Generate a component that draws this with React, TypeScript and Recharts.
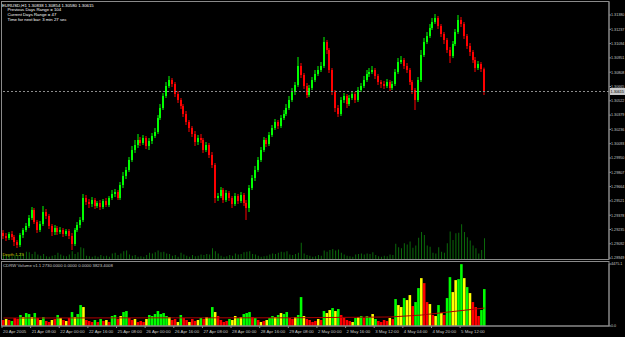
import React from 'react';
import { ComposedChart, Bar, Line, XAxis, YAxis, ReferenceLine, Cell } from 'recharts';

// EURUSD H1 (one entry per bar)
const opens = [
  1.2920, 1.2917, 1.2915, 1.2919, 1.2916, 1.2911, 1.2908, 1.2918, 1.2923, 1.2927,
  1.2935, 1.2943, 1.2931, 1.2923, 1.2929, 1.2941, 1.2937, 1.2927, 1.2921, 1.2925,
  1.2921, 1.2923, 1.2919, 1.2922, 1.2917, 1.2909, 1.2923, 1.2928, 1.2933, 1.2955,
  1.2951, 1.2949, 1.2953, 1.2947, 1.2950, 1.2946, 1.2952, 1.2948, 1.2955, 1.2959,
  1.2961, 1.2955, 1.2968, 1.2977, 1.2983, 1.2993, 1.3003, 1.3008, 1.3013, 1.3010,
  1.3015, 1.3007, 1.3012, 1.3017, 1.3021, 1.3035, 1.3045, 1.3057, 1.3067, 1.3073,
  1.3069, 1.3059, 1.3053, 1.3047, 1.3039, 1.3031, 1.3025, 1.3019, 1.3011, 1.3015,
  1.3013, 1.3003, 1.3008, 1.2998, 1.2988, 1.2955, 1.2957, 1.2963, 1.2953, 1.2960,
  1.2955, 1.2949, 1.2957, 1.2952, 1.2958, 1.2950, 1.2945, 1.2965, 1.2975, 1.2983,
  1.2993, 1.3003, 1.3013, 1.3009, 1.3018, 1.3025, 1.3031, 1.3027, 1.3035, 1.3039,
  1.3045, 1.3053, 1.3061, 1.3068, 1.3087, 1.3078, 1.3067, 1.3058, 1.3065, 1.3073,
  1.3079, 1.3083, 1.3087, 1.3111, 1.3103, 1.3083, 1.3061, 1.3045, 1.3039, 1.3053,
  1.3057, 1.3049, 1.3055, 1.3059, 1.3053, 1.3063, 1.3067, 1.3073, 1.3079, 1.3081,
  1.3083, 1.3077, 1.3071, 1.3069, 1.3067, 1.3071, 1.3065, 1.3069, 1.3081, 1.3091,
  1.3093, 1.3087, 1.3083, 1.3071, 1.3063, 1.3053, 1.3073, 1.3098, 1.3111, 1.3117,
  1.3125, 1.3131, 1.3135, 1.3127, 1.3119, 1.3113, 1.3103, 1.3097, 1.3109, 1.3121,
  1.3133, 1.3129, 1.3117, 1.3107, 1.3101, 1.3093, 1.3085, 1.3089, 1.30838,
];
const highs = [
  1.2923, 1.2920, 1.2921, 1.2922, 1.2918, 1.2913, 1.2920, 1.2925, 1.2930, 1.2938,
  1.2946, 1.2945, 1.2933, 1.2932, 1.2947, 1.2944, 1.2939, 1.2929, 1.2928, 1.2927,
  1.2926, 1.2925, 1.2924, 1.2924, 1.2920, 1.2925, 1.2931, 1.2936, 1.2959, 1.2958,
  1.2954, 1.2956, 1.2955, 1.2952, 1.2953, 1.2954, 1.2955, 1.2957, 1.2963, 1.2964,
  1.2963, 1.2971, 1.2981, 1.2986, 1.2996, 1.3007, 1.3013, 1.3019, 1.3016, 1.3018,
  1.3017, 1.3015, 1.3020, 1.3025, 1.3038, 1.3049, 1.3060, 1.3071, 1.3077, 1.3075,
  1.3071, 1.3062, 1.3055, 1.3049, 1.3042, 1.3033, 1.3027, 1.3022, 1.3018, 1.3019,
  1.3015, 1.3011, 1.3010, 1.3001, 1.2990, 1.2960, 1.2966, 1.2965, 1.2963, 1.2962,
  1.2957, 1.2960, 1.2959, 1.2961, 1.2960, 1.2953, 1.2968, 1.2978, 1.2987, 1.2996,
  1.3006, 1.3016, 1.3015, 1.3021, 1.3028, 1.3034, 1.3033, 1.3038, 1.3043, 1.3049,
  1.3057, 1.3065, 1.3071, 1.3096, 1.3090, 1.3080, 1.3070, 1.3068, 1.3076, 1.3083,
  1.3087, 1.3091, 1.3116, 1.3113, 1.3105, 1.3085, 1.3063, 1.3048, 1.3056, 1.3060,
  1.3059, 1.3058, 1.3062, 1.3061, 1.3066, 1.3070, 1.3077, 1.3083, 1.3085, 1.3087,
  1.3085, 1.3079, 1.3073, 1.3072, 1.3074, 1.3073, 1.3072, 1.3084, 1.3095, 1.3097,
  1.3095, 1.3090, 1.3085, 1.3073, 1.3065, 1.3076, 1.3103, 1.3115, 1.3121, 1.3129,
  1.3135, 1.3139, 1.3137, 1.3129, 1.3121, 1.3115, 1.3106, 1.3112, 1.3124, 1.3138,
  1.3136, 1.3131, 1.3119, 1.3110, 1.3103, 1.3096, 1.3092, 1.3091, 1.30854,
];
const lows = [
  1.2914, 1.2912, 1.2913, 1.2913, 1.2907, 1.2905, 1.2906, 1.2915, 1.2921, 1.2925,
  1.2933, 1.2929, 1.2920, 1.2921, 1.2927, 1.2934, 1.2924, 1.2917, 1.2918, 1.2918,
  1.2919, 1.2916, 1.2917, 1.2914, 1.2903, 1.2907, 1.2921, 1.2925, 1.2931, 1.2948,
  1.2945, 1.2946, 1.2944, 1.2945, 1.2943, 1.2944, 1.2946, 1.2946, 1.2953, 1.2956,
  1.2953, 1.2953, 1.2965, 1.2974, 1.2981, 1.2991, 1.3000, 1.3005, 1.3007, 1.3008,
  1.3004, 1.3003, 1.3009, 1.3015, 1.3019, 1.3033, 1.3043, 1.3055, 1.3065, 1.3066,
  1.3056, 1.3050, 1.3044, 1.3036, 1.3028, 1.3021, 1.3016, 1.3007, 1.3008, 1.3010,
  1.3000, 1.3001, 1.2995, 1.2985, 1.2950, 1.2952, 1.2955, 1.2950, 1.2951, 1.2952,
  1.2945, 1.2947, 1.2949, 1.2950, 1.2947, 1.2933, 1.2941, 1.2963, 1.2972, 1.2981,
  1.2991, 1.3001, 1.3006, 1.3007, 1.3016, 1.3023, 1.3024, 1.3025, 1.3033, 1.3037,
  1.3043, 1.3051, 1.3058, 1.3066, 1.3075, 1.3064, 1.3055, 1.3056, 1.3063, 1.3071,
  1.3077, 1.3081, 1.3085, 1.3099, 1.3080, 1.3058, 1.3041, 1.3036, 1.3037, 1.3050,
  1.3045, 1.3047, 1.3053, 1.3050, 1.3051, 1.3061, 1.3065, 1.3071, 1.3076, 1.3079,
  1.3074, 1.3068, 1.3065, 1.3064, 1.3065, 1.3062, 1.3063, 1.3067, 1.3079, 1.3089,
  1.3084, 1.3080, 1.3068, 1.3059, 1.3043, 1.3051, 1.3071, 1.3096, 1.3109, 1.3115,
  1.3123, 1.3129, 1.3124, 1.3116, 1.3109, 1.3100, 1.3090, 1.3095, 1.3107, 1.3119,
  1.3126, 1.3114, 1.3104, 1.3097, 1.3090, 1.3081, 1.3083, 1.3081, 1.30580,
];
const closes = [
  1.2917, 1.2915, 1.2919, 1.2916, 1.2911, 1.2908, 1.2918, 1.2923, 1.2927, 1.2935,
  1.2943, 1.2931, 1.2923, 1.2929, 1.2941, 1.2937, 1.2927, 1.2921, 1.2925, 1.2921,
  1.2923, 1.2919, 1.2922, 1.2917, 1.2909, 1.2923, 1.2928, 1.2933, 1.2955, 1.2951,
  1.2949, 1.2953, 1.2947, 1.2950, 1.2946, 1.2952, 1.2948, 1.2955, 1.2959, 1.2961,
  1.2955, 1.2968, 1.2977, 1.2983, 1.2993, 1.3003, 1.3008, 1.3013, 1.3010, 1.3015,
  1.3007, 1.3012, 1.3017, 1.3021, 1.3035, 1.3045, 1.3057, 1.3067, 1.3073, 1.3069,
  1.3059, 1.3053, 1.3047, 1.3039, 1.3031, 1.3025, 1.3019, 1.3011, 1.3015, 1.3013,
  1.3003, 1.3008, 1.2998, 1.2988, 1.2955, 1.2957, 1.2963, 1.2953, 1.2960, 1.2955,
  1.2949, 1.2957, 1.2952, 1.2958, 1.2950, 1.2945, 1.2965, 1.2975, 1.2983, 1.2993,
  1.3003, 1.3013, 1.3009, 1.3018, 1.3025, 1.3031, 1.3027, 1.3035, 1.3039, 1.3045,
  1.3053, 1.3061, 1.3068, 1.3087, 1.3078, 1.3067, 1.3058, 1.3065, 1.3073, 1.3079,
  1.3083, 1.3087, 1.3111, 1.3103, 1.3083, 1.3061, 1.3045, 1.3039, 1.3053, 1.3057,
  1.3049, 1.3055, 1.3059, 1.3053, 1.3063, 1.3067, 1.3073, 1.3079, 1.3081, 1.3083,
  1.3077, 1.3071, 1.3069, 1.3067, 1.3071, 1.3065, 1.3069, 1.3081, 1.3091, 1.3093,
  1.3087, 1.3083, 1.3071, 1.3063, 1.3053, 1.3073, 1.3098, 1.3111, 1.3117, 1.3125,
  1.3131, 1.3135, 1.3127, 1.3119, 1.3113, 1.3103, 1.3097, 1.3109, 1.3121, 1.3133,
  1.3129, 1.3117, 1.3107, 1.3101, 1.3093, 1.3085, 1.3089, 1.3084, 1.30615,
];

// tick volume per bar, and its colour code in the CDRW window (G up, Y neutral, R down)
const volumes = [
  432, 504, 432, 360, 576, 504, 792, 648, 936, 864,
  648, 936, 576, 432, 648, 360, 288, 432, 504, 792,
  576, 432, 360, 576, 1008, 648, 864, 1512, 1368, 432,
  360, 288, 432, 288, 504, 360, 432, 288, 720, 792,
  504, 720, 1008, 1080, 576, 432, 504, 288, 360, 288,
  504, 792, 720, 864, 1080, 864, 936, 720, 648, 432,
  504, 288, 792, 576, 432, 288, 504, 360, 432, 576,
  504, 648, 576, 1368, 1008, 720, 432, 288, 360, 504,
  432, 720, 576, 648, 864, 936, 1008, 648, 576, 432,
  288, 360, 432, 576, 720, 648, 792, 936, 864, 1008,
  576, 504, 648, 792, 2088, 720, 504, 432, 288, 360,
  504, 432, 1080, 936, 1152, 1296, 1080, 1224, 792, 576,
  432, 360, 288, 576, 648, 720, 576, 720, 648, 864,
  504, 360, 288, 432, 360, 576, 504, 1944, 1512, 1368,
  2016, 1872, 2232, 1440, 1728, 2736, 3456, 3096, 1728, 1584,
  792, 720, 1512, 936, 792, 2016, 3528, 2448, 3312, 3384,
  4464, 3456, 2808, 2376, 1728, 1368, 720, 1152, 2664,
];
const volumeColors = [
  'RYRGRRGYGG', 'YGRYGRRYRG', 'YRYRGYGGYR', 'RRGRGRYRGG', 'RYGGRRYRRR',
  'YGGGGGGGYR', 'RYGRRYRRYG', 'RYGGYRRRRG', 'YYGYGGGRGR', 'YRYGGYGYGG',
  'RRYGGYRRRR', 'YRGYYGYGRR', 'RRYGYGRGGY', 'GRRRRYRGYY', 'GYYRGGYRRY',
  'RYGYRGGYYG', 'GYGYRRRGG',
].join('');
// average line of the volume window: [bar, value]
const volumeMa: [number, number][] = [
  [0, 576], [60, 590], [100, 590], [135, 650], [146, 790], [155, 1000], [168, 1296],
];

const priceTicks = [
  1.3138, 1.31237, 1.31094, 1.30951, 1.30808, 1.30665, 1.30522, 1.30379, 1.30236,
  1.30093, 1.2995, 1.29807, 1.29664, 1.29521, 1.29378, 1.29235, 1.29092, 1.28949,
];
const volumeTicks = [0, 4475.1];
const dateLabels = [
  '20 Apr 2005', '21 Apr 08:00', '22 Apr 00:00', '22 Apr 16:00', '25 Apr 08:00',
  '26 Apr 00:00', '26 Apr 16:00', '27 Apr 08:00', '28 Apr 00:00', '28 Apr 16:00',
  '29 Apr 08:00', '2 May 00:00', '2 May 16:00', '3 May 12:00', '4 May 04:00',
  '4 May 20:00', '5 May 12:00',
];
const headerLines = [
  'EURUSD,H1  1.30838 1.30854 1.30580 1.30615',
  'Previous Days Range = 104',
  'Current Days Range  = 47',
  'Time for next bar:    3 min 27 sec',
];

const BAR_SLOTS = 212; // bars that fit the window width
const LABEL_EVERY = 10; // bars between date labels
const FONT = '"Liberation Sans", Arial, sans-serif';
const UP = '#00ff00';
const DOWN = '#ff0000';
const AXIS = '#8a8a8a';
const TEXT = '#c8c8c8';
const COLOR_OF: Record<string, string> = { G: '#00ff00', Y: '#ffff00', R: '#ff0000' };

const rows = opens.map((o, i) => ({
  t: i + 0.5,
  open: o,
  high: highs[i],
  low: lows[i],
  close: closes[i],
  vol: volumes[i],
  ma: null as number | null,
}));
volumeMa.forEach(([i, v]) => {
  rows[i].ma = v;
});
const lastClose = closes[closes.length - 1];
const dateTicks = dateLabels.map((_, i) => i * LABEL_EVERY);

const Candle = (props: any) => {
  const { x, y, width, height, payload } = props;
  if (x == null || !payload) return null;
  const { open, close, high, low } = payload;
  const top = Math.min(y, y + height);
  const h = Math.abs(height);
  const k = high > low ? h / (high - low) : 0;
  const bodyTop = top + (high - Math.max(open, close)) * k;
  const bodyH = Math.max(1, Math.abs(open - close) * k);
  const color = close >= open ? UP : DOWN;
  const left = Math.round(x);
  return (
    <g>
      <rect x={left + 0.5} y={top} width={1} height={Math.max(h, 1)} fill={color} />
      <rect x={left} y={bodyTop} width={2} height={bodyH} fill={color} />
    </g>
  );
};

const DateTick = (props: any) => {
  const { x, y, payload } = props;
  const label = dateLabels[Math.round(payload.value / LABEL_EVERY)];
  return (
    <text x={x + 1} y={y + 4} fontSize={4.3} fill={TEXT} fontFamily={FONT} textAnchor="start">
      {label}
    </text>
  );
};

const PriceTag = (props: any) => {
  const vb = props.viewBox;
  if (!vb) return null;
  const x = vb.x + vb.width + 1;
  return (
    <g>
      <rect x={x} y={vb.y - 3.5} width={15} height={7} fill="#c8c8c8" />
      <text x={x + 0.6} y={vb.y + 1.4} fontSize={3.7} fill="#000" fontFamily={FONT}>
        {lastClose.toFixed(5)}
      </text>
    </g>
  );
};

export default function App() {
  const tickStyle = { fontSize: 3.7, fill: TEXT, fontFamily: FONT };
  return (
    <div style={{ position: 'fixed', left: 0, top: 0, width: 625, height: 337, background: '#000', overflow: 'hidden' }}>
      <div style={{ position: 'absolute', left: 0, top: 0 }}>
        <ComposedChart width={625} height={261} data={rows} margin={{ top: 2, right: 0, bottom: 2, left: 2 }}>
          <XAxis xAxisId="c" type="number" dataKey="t" domain={[0, BAR_SLOTS]} hide allowDataOverflow />
          <XAxis xAxisId="v" type="number" dataKey="t" domain={[0, BAR_SLOTS]} hide allowDataOverflow />
          <YAxis
            yAxisId="price"
            orientation="right"
            width={16}
            domain={[1.2894, 1.3151]}
            allowDataOverflow
            ticks={priceTicks}
            interval={0}
            tickFormatter={(v: number) => v.toFixed(5)}
            tick={tickStyle}
            tickSize={2}
            tickMargin={0}
            axisLine={{ stroke: AXIS }}
            tickLine={{ stroke: AXIS }}
          />
          <YAxis yAxisId="depth" hide domain={[0, 33000]} allowDataOverflow />
          <Bar
            xAxisId="v"
            yAxisId="depth"
            dataKey="vol"
            barSize={1}
            fill="#0b6a0b"
            isAnimationActive={false}
          />
          <ReferenceLine
            xAxisId="c"
            yAxisId="price"
            y={lastClose}
            stroke="#8c8c8c"
            strokeDasharray="2 2"
            label={<PriceTag />}
          />
          <Bar
            xAxisId="c"
            yAxisId="price"
            dataKey={(d: any) => [d.low, d.high]}
            barSize={2}
            shape={<Candle />}
            isAnimationActive={false}
          />
        </ComposedChart>
      </div>

      <div style={{ position: 'absolute', left: 0, top: 261 }}>
        <ComposedChart width={625} height={76} data={rows} margin={{ top: 3, right: 0, bottom: 0, left: 2 }}>
          <XAxis
            type="number"
            dataKey="t"
            domain={[0, BAR_SLOTS]}
            allowDataOverflow
            ticks={dateTicks}
            interval={0}
            height={11}
            tick={<DateTick />}
            tickSize={2}
            tickMargin={1}
            axisLine={{ stroke: AXIS }}
            tickLine={{ stroke: AXIS }}
          />
          <YAxis
            orientation="right"
            width={16}
            domain={[0, 4475.1]}
            allowDataOverflow
            ticks={volumeTicks}
            interval={0}
            tickFormatter={(v: number) => v.toFixed(1)}
            tick={tickStyle}
            tickSize={2}
            tickMargin={0}
            axisLine={{ stroke: AXIS }}
            tickLine={{ stroke: AXIS }}
          />
          <Bar dataKey="vol" barSize={3} isAnimationActive={false}>
            {rows.map((_, i) => (
              <Cell key={i} fill={COLOR_OF[volumeColors[i]]} />
            ))}
          </Bar>
          <Line
            dataKey="ma"
            connectNulls
            dot={false}
            stroke="#b00000"
            strokeWidth={1}
            isAnimationActive={false}
          />
        </ComposedChart>
      </div>

      <svg width={625} height={337} style={{ position: 'absolute', left: 0, top: 0, pointerEvents: 'none' }}>
        <rect x={1.5} y={1.5} width={607.5} height={258} fill="none" stroke={AXIS} />
        <rect x={1.5} y={261.5} width={607.5} height={64.5} fill="none" stroke={AXIS} />
        <g fontFamily={FONT} fontSize={4.3} fill="#ffffff">
          <text x={2} y={6.7}>{headerLines[0]}</text>
          <text x={7.5} y={11.3}>{headerLines[1]}</text>
          <text x={7.5} y={16.3}>{headerLines[2]}</text>
          <text x={7.5} y={21.3}>{headerLines[3]}</text>
        </g>
        <text x={2.5} y={256.3} fontFamily={FONT} fontSize={4.3} fill="#c8c800">Depth 1.23</text>
        <text x={3} y={267} fontFamily={FONT} fontSize={4.3} fill={TEXT}>
          CDRW Volume v1.1  2730.0000  0.0000  0.0000  3823.4008
        </text>
      </svg>
    </div>
  );
}
